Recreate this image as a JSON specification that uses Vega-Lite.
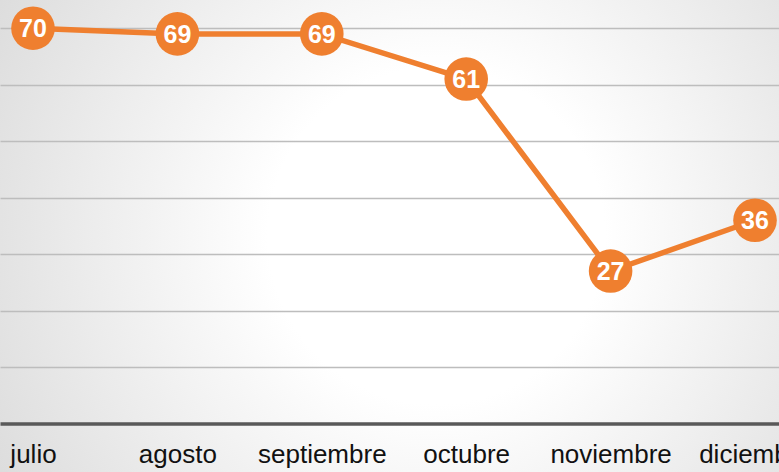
{
  "$schema": "https://vega.github.io/schema/vega-lite/v6.json",
  "width": 779,
  "height": 472,
  "padding": 0,
  "autosize": {"type": "none"},
  "background": "#e6e6e6",
  "config": {"view": {"stroke": null, "fill": {"gradient": "radial", "x1": 0.56, "y1": 0.5, "r1": 0, "x2": 0.56, "y2": 0.5, "r2": 0.72,
      "stops": [{"offset": 0, "color": "#ffffff"}, {"offset": 0.3, "color": "#ffffff"}, {"offset": 1, "color": "#d6d6d6"}]}}, "font": "Liberation Sans"},
  "data": {"values": [
    {"mes": "julio", "valor": 70},
    {"mes": "agosto", "valor": 69},
    {"mes": "septiembre", "valor": 69},
    {"mes": "octubre", "valor": 61},
    {"mes": "noviembre", "valor": 27},
    {"mes": "diciembre", "valor": 36}
  ]},
  "encoding": {
    "x": {"field": "mes", "type": "ordinal", "sort": null,
      "scale": {"type": "point", "range": [0, 788], "padding": 0.2285},
      "axis": {"title": null, "orient": "bottom", "offset": -48.5, "domainColor": "#595959", "domainWidth": 3.5,
        "ticks": false, "labelFontSize": 26, "labelColor": "#111111", "labelPadding": 18, "labelAngle": 0, "labelOverlap": false, "labelFont": "Liberation Sans"}},
    "y": {"field": "valor", "type": "quantitative",
      "scale": {"domain": [-8.58, 75], "nice": false, "zero": false},
      "axis": {"title": null, "values": [10, 20, 30, 40, 50, 60, 70], "labels": false, "ticks": false, "domain": false,
        "grid": true, "gridColor": "#bdbdbd", "gridWidth": 1.5}}
  },
  "layer": [
    {"mark": {"type": "line", "color": "#EF7F2F", "strokeWidth": 5.5}},
    {"mark": {"type": "circle", "color": "#EF7F2F", "opacity": 1, "size": 1900}},
    {"mark": {"type": "text", "color": "#ffffff", "fontSize": 25, "fontWeight": "bold", "font": "Liberation Sans", "baseline": "middle", "dy": 1},
     "encoding": {"text": {"field": "valor", "type": "quantitative"}}}
  ]
}
